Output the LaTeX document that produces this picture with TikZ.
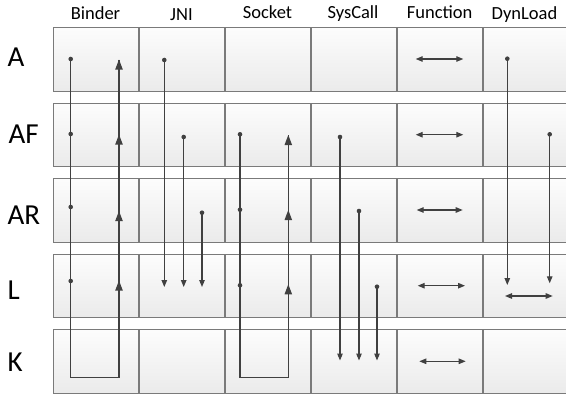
\documentclass[tikz,border=0pt]{standalone}
\usepackage{fontspec}
\setmainfont{Carlito}
\usetikzlibrary{arrows.meta}
\definecolor{ln}{HTML}{404040}
\definecolor{bd}{HTML}{7A7A7A}
\begin{document}
\begin{tikzpicture}[x=1pt,y=-1pt,
  cell/.style={draw=bd,line width=1.2pt,top color=white!99!black,bottom color=white!92!black,
    minimum width=85pt,minimum height=63.5pt,inner sep=0pt,anchor=north west},
  hdr/.style={font=\fontsize{18.5}{20}\selectfont,anchor=base,inner sep=0pt},
  rowlab/.style={font=\fontsize{29}{32}\selectfont,anchor=base west,inner sep=0pt},
  wire/.style={draw=ln,line width=1.1pt},
  loopline/.style={draw=ln,line width=1.4pt},
  dot/.style={circle,fill=ln,inner sep=0pt,minimum size=4.6pt},
  downtip/.style={-{Triangle[length=7pt,width=5.5pt]}},
  dbl/.style={draw=ln,line width=1.1pt,{Triangle[length=7pt,width=5.5pt]}-{Triangle[length=7pt,width=5.5pt]}},
  upar/.pic={\fill[ln] (0,0) -- (-3.8,10) -- (3.8,10) -- cycle;}
]
\useasboundingbox (0,0) rectangle (566,394);

% headers
\node[hdr] (hB) at (95.5,19) {Binder};
\node[hdr] (hJ) at (181.5,20) {JNI};
\node[hdr] (hS) at (267.5,18) {Socket};
\node[hdr] (hY) at (353,18) {SysCall};
\node[hdr] (hF) at (439.7,18) {Function};
\node[hdr] (hD) at (524.5,19) {DynLoad};

% row labels
\node[rowlab] (lA) at (7.5,66.7) {A};
\node[rowlab] (lAF) at (8.5,143) {AF};
\node[rowlab] (lAR) at (7.5,224.3) {AR};
\node[rowlab] (lL) at (7.5,299.5) {L};
\node[rowlab] (lK) at (7.5,371) {K};

% cells
\foreach \r/\y in {1/27,2/102.5,3/178,4/253.5,5/329}{
  \foreach \c/\x in {1/53,2/139,3/225,4/311,5/397,6/483}{
    \node[cell] (c\r\c) at (\x,\y) {};
  }
}

% Binder loop
\node[dot] (b1) at (70.7,59) {};
\node[dot] (b2) at (70.7,134) {};
\node[dot] (b3) at (70.7,207) {};
\node[dot] (b4) at (70.7,281) {};
\coordinate (bL) at (70.7,377.7);
\coordinate (bR) at (119,377.7);
\coordinate (bT) at (119,59.5);
\draw[loopline] (b1.center) -- (bL) -- (bR) -- (bT);
\pic at (119,59.5) {upar};
\pic at (119,134.5) {upar};
\pic at (119,211) {upar};
\pic at (119,280.5) {upar};

% JNI
\node[dot] (j1) at (164.3,60) {};
\node[dot] (j2) at (183.7,137) {};
\node[dot] (j3) at (202,212.7) {};
\coordinate (j1e) at (164.3,287);
\coordinate (j2e) at (183.7,287);
\coordinate (j3e) at (202,287);
\draw[wire,downtip] (j1.center) -- (j1e);
\draw[wire,downtip] (j2.center) -- (j2e);
\draw[wire,downtip] (j3.center) -- (j3e);

% Socket loop
\node[dot] (s2) at (240,134.3) {};
\node[dot] (s3) at (240,209.7) {};
\node[dot] (s4) at (240,285.3) {};
\coordinate (sL) at (240,377.7);
\coordinate (sR) at (288.3,377.7);
\coordinate (sT) at (288.3,135);
\draw[loopline] (s2.center) -- (sL) -- (sR) -- (sT);
\pic at (288.3,135) {upar};
\pic at (288.3,210) {upar};
\pic at (288.3,284.3) {upar};

% SysCall
\node[dot] (y1) at (340,137) {};
\node[dot] (y2) at (359,211) {};
\node[dot] (y3) at (377,286.7) {};
\coordinate (y1e) at (340,360.5);
\coordinate (y2e) at (359,360.5);
\coordinate (y3e) at (377,360.5);
\draw[wire,downtip] (y1.center) -- (y1e);
\draw[wire,downtip] (y2.center) -- (y2e);
\draw[wire,downtip] (y3.center) -- (y3e);

% Function
\foreach \i/\y/\xa/\xb in {1/59/415.7/463.3,2/134.7/415.7/463.3,3/210/416.7/462.7,4/285.7/417.7/465,5/361.3/419.3/465.7}{
  \coordinate (fa\i) at (\xa,\y);
  \coordinate (fb\i) at (\xb,\y);
  \draw[dbl] (fa\i) -- (fb\i);
}

% DynLoad
\node[dot] (d1) at (507.3,58.7) {};
\node[dot] (d2) at (549.7,134.3) {};
\coordinate (d1e) at (507.3,285);
\coordinate (d2e) at (549.7,283.3);
\draw[wire,downtip] (d1.center) -- (d1e);
\draw[wire,downtip] (d2.center) -- (d2e);
\coordinate (dda) at (505,296);
\coordinate (ddb) at (552.7,296);
\draw[dbl] (dda) -- (ddb);
\end{tikzpicture}
\end{document}
